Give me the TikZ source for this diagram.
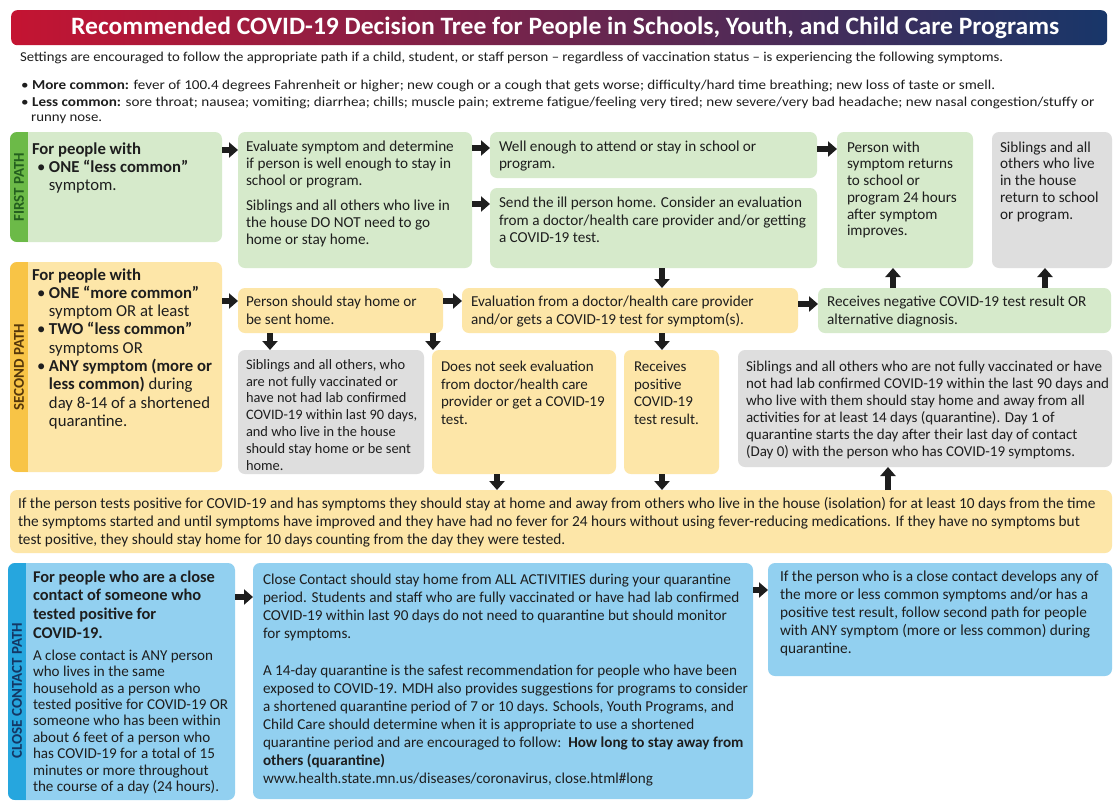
\documentclass[tikz,border=0pt]{standalone}
\usepackage{fontspec}
\setmainfont{Carlito}
\usetikzlibrary{arrows.meta}
\definecolor{gfill}{RGB}{214,234,203}
\definecolor{gband}{RGB}{108,186,72}
\definecolor{gtext}{RGB}{35,95,30}
\definecolor{yfill}{RGB}{253,230,168}
\definecolor{yband}{RGB}{248,196,70}
\definecolor{ytext}{RGB}{85,55,10}
\definecolor{grfill}{RGB}{222,222,222}
\definecolor{bfill}{RGB}{146,208,240}
\definecolor{bband}{RGB}{38,166,222}
\definecolor{btext}{RGB}{20,55,100}
\definecolor{ink}{RGB}{30,30,30}
\definecolor{tred}{RGB}{196,20,50}
\definecolor{tpur}{RGB}{105,28,110}
\definecolor{tnavy}{RGB}{24,54,105}
% name, x, y, w, h, style, left pad, top pad, lines
\newcommand\bx[9]{\node[bx,#6,minimum width=#4pt,minimum height=#5pt] (#1) at (#2,#3) {\hspace*{#7pt}\parbox[c][#5pt][t]{\dimexpr#4pt-#7pt\relax}{\vspace*{#8pt}\begin{tabular}[t]{@{}l@{}}#9\end{tabular}}};}
\newcommand\bul{\hspace*{5pt}\makebox[12pt][l]{\textbullet}}
\newcommand\ind{\hspace*{17pt}}
\tikzset{
 bx/.style={anchor=north west, rounded corners=7pt, inner sep=0pt, outer sep=0pt, font=\fontsize{15.2}{18}\selectfont, text=ink},
 band/.style={path picture={\fill[#1,sharp corners] (path picture bounding box.north west) rectangle ([xshift=18pt]path picture bounding box.south west);}},
 blk/.style={draw=ink, line width=5.5pt, -{Triangle[length=9pt,width=15pt]}},
 vlab/.style={rotate=90, font=\bfseries\fontsize{15}{15}\selectfont},
 intro/.style={anchor=west, inner sep=0pt, text=ink},
}
\begin{document}
\begin{tikzpicture}[x=1pt,y=-1pt]
\useasboundingbox[fill=white] (0,0) rectangle (1114,801);
% title
\node[anchor=north west, rounded corners=6pt, left color=tred, middle color=tpur, right color=tnavy, minimum width=1096pt, minimum height=35pt, inner sep=0pt, text=white] (title) at (11,10)
 {\hspace*{12pt}\resizebox{988pt}{\height}{\fontsize{25}{28}\selectfont\bfseries Recommended COVID-19 Decision Tree for People in Schools, Youth, and Child Care Programs}};
% intro
\node[intro] (intro) at (20,58) {\resizebox{983pt}{\height}{\fontsize{13.6}{15}\selectfont Settings are encouraged to follow the appropriate path if a child, student, or staff person – regardless of vaccination status – is experiencing the following symptoms.}};
\node[intro] (more) at (21,86) {\resizebox{974pt}{\height}{\fontsize{13.6}{15}\selectfont\textbullet\ \textbf{More common:} fever of 100.4 degrees Fahrenheit or higher; new cough or a cough that gets worse; difficulty/hard time breathing; new loss of taste or smell.}};
\node[intro] (less) at (21,103) {\resizebox{1073pt}{\height}{\fontsize{13.6}{15}\selectfont\textbullet\ \textbf{Less common:} sore throat; nausea; vomiting; diarrhea; chills; muscle pain; extreme fatigue/feeling very tired; new severe/very bad headache; new nasal congestion/stuffy or}};
\node[intro] (runny) at (31,119) {\resizebox{71pt}{\height}{\fontsize{13.6}{15}\selectfont runny nose.}};
% FIRST PATH
\bx{fp}{10}{132}{212}{110}{fill=gfill,band=gband,font=\fontsize{16.7}{18}\selectfont}{22}{10}{\textbf{For people with}\\\bul\textbf{ONE “less common”}\\\ind symptom.}
\node[vlab,text=gtext] (fplab) at ([xshift=9pt]fp.west) {FIRST PATH};
\bx{evalsym}{238}{132}{234}{136}{fill=gfill,font=\fontsize{15.2}{17}\selectfont}{8}{7.6}{Evaluate symptom and determine\\if person is well enough to stay in\\school or program.\\[8pt]Siblings and all others who live in\\the house DO NOT need to go\\home or stay home.}
\bx{well}{490}{132}{327}{46}{fill=gfill,font=\fontsize{15.2}{17}\selectfont}{9}{7.6}{Well enough to attend or stay in school or\\program.}
\bx{sendhome}{490}{188}{327}{80}{fill=gfill,font=\fontsize{15.2}{17.5}\selectfont}{9}{7.3}{Send the ill person home. Consider an evaluation\\from a doctor/health care provider and/or getting\\a COVID-19 test.}
\bx{returns}{837}{132}{136}{136}{fill=gfill,font=\fontsize{15.2}{16.7}\selectfont}{10}{8.6}{Person with\\symptom returns\\to school or\\program 24 hours\\after symptom\\improves.}
\bx{sibret}{992}{132}{120}{136}{fill=grfill,font=\fontsize{15.2}{16.7}\selectfont}{8}{8.6}{Siblings and all\\others who live\\in the house\\return to school\\or program.}
% SECOND PATH
\bx{sp}{10}{262}{212}{210}{fill=yfill,band=yband,font=\fontsize{16.7}{18.3}\selectfont}{22}{5.2}{\textbf{For people with}\\\bul\textbf{ONE “more common”}\\\ind symptom OR at least\\\bul\textbf{TWO “less common”}\\\ind symptoms OR\\\bul\textbf{ANY symptom (more or}\\\ind\textbf{less common)} during\\\ind day 8-14 of a shortened\\\ind quarantine.}
\node[vlab,text=ytext] (splab) at ([xshift=9pt]sp.west) {SECOND PATH};
\bx{stayhome}{238}{288}{205}{45}{fill=yfill}{8}{5.9}{Person should stay home or\\be sent home.}
\bx{evalprov}{462}{288}{336}{45}{fill=yfill}{9}{5.9}{Evaluation from a doctor/health care provider\\and/or gets a COVID-19 test for symptom(s).}
\bx{negative}{818}{288}{293}{45}{fill=gfill}{9}{5.9}{Receives negative COVID-19 test result OR\\alternative diagnosis.}
\bx{sibq}{238}{350}{186}{124}{fill=grfill,font=\fontsize{14.4}{16.8}\selectfont}{8}{7.5}{Siblings and all others, who\\are not fully vaccinated or\\have not had lab confirmed\\COVID-19 within last 90 days,\\and who live in the house\\should stay home or be sent\\home.}
\bx{noseek}{432}{350}{184}{124}{fill=yfill,font=\fontsize{15}{17.5}\selectfont}{9}{9.3}{Does not seek evaluation\\from doctor/health care\\provider or get a COVID-19\\test.}
\bx{positive}{624}{350}{95}{124}{fill=yfill,font=\fontsize{15}{17.5}\selectfont}{10}{9.3}{Receives\\positive\\COVID-19\\test result.}
\bx{sibday}{738}{350}{374}{117}{fill=grfill,font=\fontsize{15}{17}\selectfont}{8}{9.5}{Siblings and all others who are not fully vaccinated or have\\not had lab confirmed COVID-19 within the last 90 days and\\who live with them should stay home and away from all\\activities for at least 14 days (quarantine). Day 1 of\\quarantine starts the day after their last day of contact\\(Day 0) with the person who has COVID-19 symptoms.}
% isolation
\bx{iso}{10}{490}{1102}{63}{fill=yfill,font=\fontsize{15.3}{18}\selectfont}{8}{5.9}{If the person tests positive for COVID-19 and has symptoms they should stay at home and away from others who live in the house (isolation) for at least 10 days from the time\\the symptoms started and until symptoms have improved and they have had no fever for 24 hours without using fever-reducing medications. If they have no symptoms but\\test positive, they should stay home for 10 days counting from the day they were tested.}
% CLOSE CONTACT PATH
\bx{cc}{8}{563}{227}{237}{fill=bfill,band=bband,font=\fontsize{15.1}{16.4}\selectfont}{25}{7.7}{{\fontsize{16.4}{19}\selectfont\bfseries For people who are a close}\\[2.3pt]{\fontsize{16.4}{19}\selectfont\bfseries contact of someone who}\\[2.3pt]{\fontsize{16.4}{19}\selectfont\bfseries tested positive for}\\[2.3pt]{\fontsize{16.4}{19}\selectfont\bfseries COVID-19.}\\[5.5pt]A close contact is ANY person\\who lives in the same\\household as a person who\\tested positive for COVID-19 OR\\someone who has been within\\about 6 feet of a person who\\has COVID-19 for a total of 15\\minutes or more throughout\\the course of a day (24 hours).}
\node[vlab,text=btext] (cclab) at ([xshift=9pt,yshift=-9pt]cc.west) {CLOSE CONTACT PATH};
\bx{ccmid}{253}{563}{500}{236}{fill=bfill,font=\fontsize{15.15}{18}\selectfont}{10}{8.9}{Close Contact should stay home from ALL ACTIVITIES during your quarantine\\period. Students and staff who are fully vaccinated or have had lab confirmed\\COVID-19 within last 90 days do not need to quarantine but should monitor\\for symptoms.\\[19pt]A 14-day quarantine is the safest recommendation for people who have been\\exposed to COVID-19. MDH also provides suggestions for programs to consider\\a shortened quarantine period of 7 or 10 days. Schools, Youth Programs, and\\Child Care should determine when it is appropriate to use a shortened\\quarantine period and are encouraged to follow:\ \ \textbf{How long to stay away from}\\\textbf{others (quarantine)}\\www.health.state.mn.us/diseases/coronavirus, close.html\#long}
\bx{ccright}{768}{563}{344}{113}{fill=bfill,font=\fontsize{15.3}{18}\selectfont}{12}{5.9}{If the person who is a close contact develops any of\\the more or less common symptoms and/or has a\\positive test result, follow second path for people\\with ANY symptom (more or less common) during\\quarantine.}
% connector reference points
\coordinate (a1) at ([yshift=-18pt]evalsym.north west);
\coordinate (a2) at ([yshift=-16pt]well.north west);
\coordinate (a3) at ([yshift=-16pt]sendhome.north west);
\coordinate (a4) at ([yshift=-17pt]returns.north west);
\coordinate (d1) at ([xshift=172pt]sendhome.south west);
\coordinate (u1) at ([xshift=56pt]returns.south west);
\coordinate (u2) at ([xshift=53pt]sibret.south west);
\coordinate (a5) at ([yshift=-13pt]stayhome.north west);
\coordinate (a6) at ([yshift=-13pt]evalprov.north west);
\coordinate (a7) at ([yshift=-16pt]negative.north west);
\coordinate (d2) at ([xshift=32pt]stayhome.south west);
\coordinate (d3) at ([xshift=195pt]stayhome.south west);
\coordinate (d4) at ([xshift=200pt]evalprov.south west);
\coordinate (d5) at ([xshift=65pt]noseek.south west);
\coordinate (d6) at ([xshift=38pt]positive.south west);
\coordinate (u3) at ([xshift=150pt]sibday.south west);
\coordinate (a8) at ([yshift=-34pt]ccmid.north west);
\coordinate (a9) at ([yshift=-27pt]ccright.north west);
% connectors
\draw[blk] (a1 -| fp.east) -- (a1);
\draw[blk] (a2 -| evalsym.east) -- (a2);
\draw[blk] (a3 -| evalsym.east) -- (a3);
\draw[blk] (a4 -| sendhome.east) -- (a4);
\draw[blk] (d1) -- (d1 |- evalprov.north);
\draw[blk] (u1 |- negative.north) -- (u1);
\draw[blk] (u2 |- negative.north) -- (u2);
\draw[blk] (a5 -| sp.east) -- (a5);
\draw[blk] (a6 -| stayhome.east) -- (a6);
\draw[blk] (a7 -| evalprov.east) -- (a7);
\draw[blk] (d2) -- (d2 |- sibq.north);
\draw[blk] (d3) -- (d3 |- noseek.north);
\draw[blk] (d4) -- (d4 |- positive.north);
\draw[blk] (d5) -- (d5 |- iso.north);
\draw[blk] (d6) -- (d6 |- iso.north);
\draw[blk] (u3 |- iso.north) -- (u3);
\draw[blk] (a8 -| cc.east) -- (a8);
\draw[blk] (a9 -| ccmid.east) -- (a9);
\end{tikzpicture}
\end{document}
